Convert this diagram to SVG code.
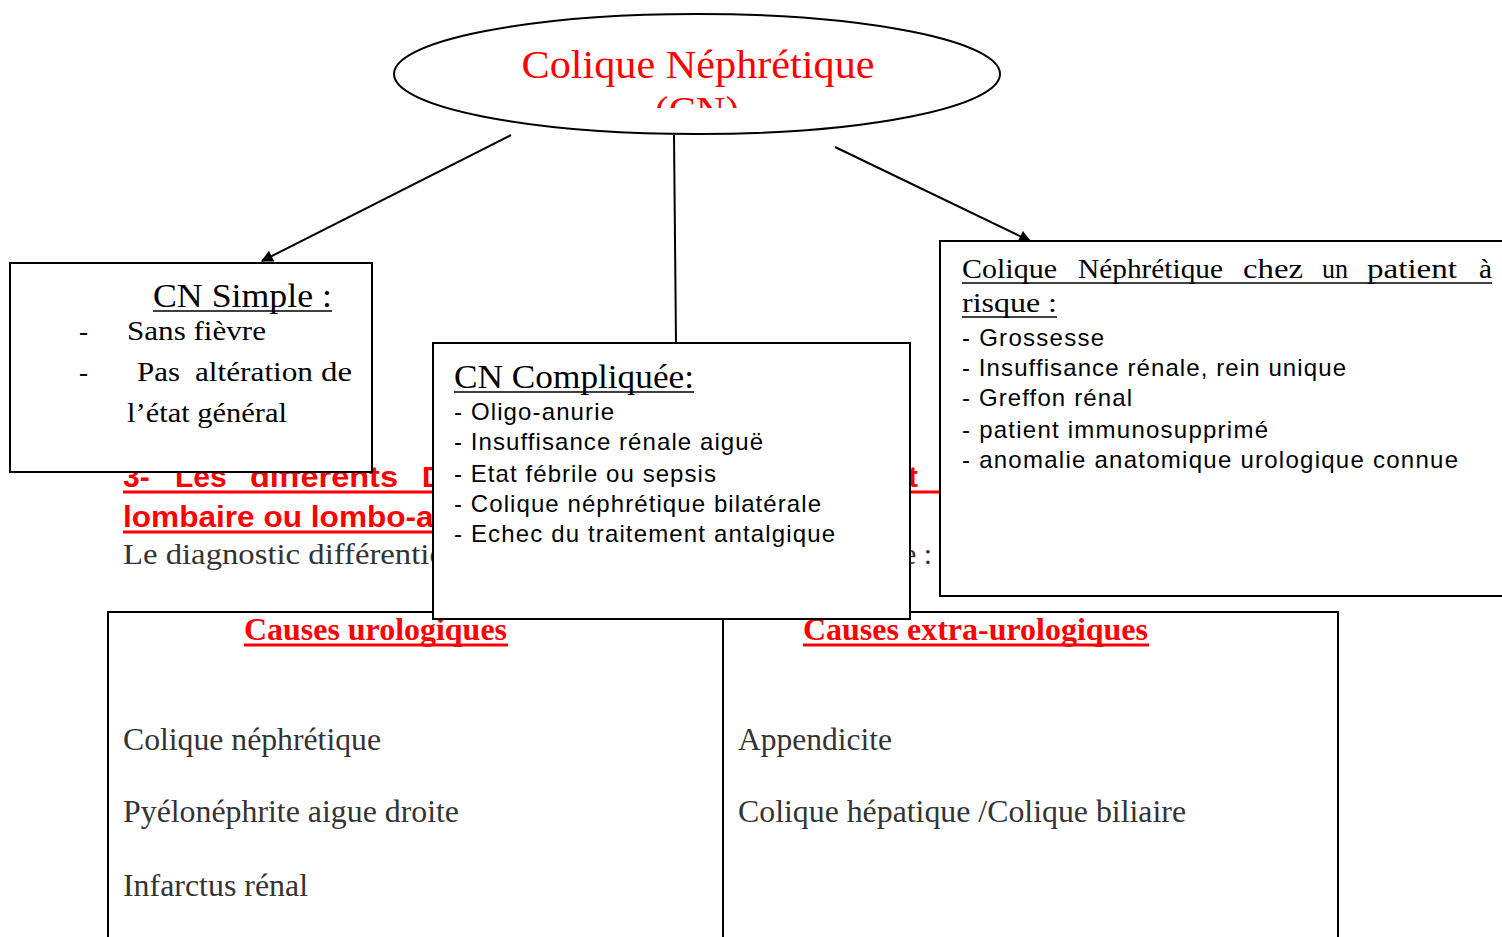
<svg xmlns="http://www.w3.org/2000/svg" width="1502" height="937" viewBox="0 0 1502 937">
<defs>
<marker id="arrL" viewBox="0 0 10 10" refX="9" refY="5" markerWidth="14" markerHeight="12" orient="auto" markerUnits="userSpaceOnUse">
<path d="M0,0 L10,5 L0,10 z" fill="#000"/>
</marker>
<clipPath id="ellclip"><rect x="390" y="10" width="620" height="98"/></clipPath>
</defs>
<style>
.box{fill:#fff;stroke:#000;stroke-width:2}
.serif{font-family:"Liberation Serif","Times New Roman",serif}
.sans{font-family:"Liberation Sans",Arial,sans-serif}
.item{font-family:"Liberation Sans",Arial,sans-serif;font-size:24px;fill:#000}
.red{fill:#ff0000}
.gray{fill:#333}
.conn{stroke:#000;stroke-width:2;fill:none}
.ul{stroke:#000;stroke-width:1.5}
.rul{stroke:#ff0000;stroke-width:3}
</style>
<rect width="1502" height="937" fill="#fff"/>

<g id="background">
<g class="sans red" font-weight="bold" font-size="30">
<text x="123" y="487">3-</text>
<text x="175" y="487">Les</text>
<text x="250" y="487" textLength="148" lengthAdjust="spacingAndGlyphs">différents</text>
<text x="422" y="487">D</text>
<text x="908" y="487">t</text>
<text x="123" y="527" textLength="330" lengthAdjust="spacingAndGlyphs">lombaire ou lombo-ab</text>
</g>
<line class="rul" x1="123" y1="492" x2="940" y2="492"/>
<line class="rul" x1="123" y1="532" x2="433" y2="532"/>
<text class="serif gray" x="123" y="564" font-size="30" textLength="330" lengthAdjust="spacingAndGlyphs">Le diagnostic différentiel</text>
<text class="serif gray" x="903" y="564" font-size="30">e :</text>
</g>

<g id="table">
<rect x="108" y="612" width="1230" height="340" fill="none" stroke="#000" stroke-width="2"/>
<line x1="723" y1="612" x2="723" y2="937" stroke="#000" stroke-width="2"/>
<text class="serif red" x="244" y="640" font-size="31" font-weight="bold" textLength="263" lengthAdjust="spacingAndGlyphs">Causes urologiques</text>
<line class="rul" x1="244" y1="645" x2="508" y2="645"/>
<text class="serif red" x="803" y="640" font-size="31" font-weight="bold" textLength="345" lengthAdjust="spacingAndGlyphs">Causes extra-urologiques</text>
<line class="rul" x1="803" y1="645" x2="1149" y2="645"/>
<g class="serif gray" font-size="31">
<text x="123" y="750" textLength="258" lengthAdjust="spacingAndGlyphs">Colique néphrétique</text>
<text x="123" y="822" textLength="336" lengthAdjust="spacingAndGlyphs">Pyélonéphrite aigue droite</text>
<text x="123" y="896" textLength="185" lengthAdjust="spacingAndGlyphs">Infarctus rénal</text>
<text x="738" y="750" textLength="154" lengthAdjust="spacingAndGlyphs">Appendicite</text>
<text x="738" y="822" textLength="448" lengthAdjust="spacingAndGlyphs">Colique hépatique /Colique biliaire</text>
</g>
</g>

<g id="connectors">
<line class="conn" x1="511" y1="135" x2="262" y2="261" marker-end="url(#arrL)"/>
<line class="conn" x1="674" y1="135" x2="676" y2="343"/>
<line class="conn" x1="835" y1="147" x2="1030" y2="241" marker-end="url(#arrL)"/>
</g>

<g id="root">
<ellipse cx="697" cy="74" rx="303" ry="60" fill="#fff" stroke="#000" stroke-width="2"/>
<g clip-path="url(#ellclip)">
<text class="serif red" x="698" y="78" font-size="41" text-anchor="middle" textLength="353" lengthAdjust="spacingAndGlyphs">Colique Néphrétique</text>
<text class="serif red" x="697" y="124" font-size="41" text-anchor="middle">(CN)</text>
</g>
</g>

<g id="cn-simple">
<rect class="box" x="10" y="263" width="362" height="209"/>
<text class="serif" x="153" y="307" font-size="34" textLength="179" lengthAdjust="spacingAndGlyphs">CN Simple :</text>
<line class="ul" x1="153" y1="311" x2="332" y2="311"/>
<g class="serif" font-size="27">
<text x="79" y="340">-</text>
<text x="127" y="340" textLength="139" lengthAdjust="spacingAndGlyphs">Sans fièvre</text>
<text x="79" y="381">-</text>
<text x="137" y="381" textLength="43" lengthAdjust="spacingAndGlyphs">Pas</text>
<text x="195" y="381" textLength="118" lengthAdjust="spacingAndGlyphs">altération</text>
<text x="321" y="381" textLength="31" lengthAdjust="spacingAndGlyphs">de</text>
<text x="127" y="422" textLength="160" lengthAdjust="spacingAndGlyphs">l’état général</text>
</g>
</g>

<g id="cn-compliquee">
<rect class="box" x="433" y="343" width="477" height="276"/>
<text class="serif" x="454" y="388" font-size="34" textLength="240" lengthAdjust="spacingAndGlyphs">CN Compliquée:</text>
<line class="ul" x1="454" y1="392" x2="694" y2="392"/>
<text class="item" x="454" y="420" textLength="160" lengthAdjust="spacing">- Oligo-anurie</text>
<text class="item" x="454" y="450" textLength="309" lengthAdjust="spacing">- Insuffisance rénale aiguë</text>
<text class="item" x="454" y="482" textLength="262" lengthAdjust="spacing">- Etat fébrile ou sepsis</text>
<text class="item" x="454" y="512" textLength="367" lengthAdjust="spacing">- Colique néphrétique bilatérale</text>
<text class="item" x="454" y="542" textLength="381" lengthAdjust="spacing">- Echec du traitement antalgique</text>
</g>

<g id="cn-risque">
<rect class="box" x="940" y="241" width="600" height="355"/>
<g class="serif" font-size="28">
<text x="962" y="278" textLength="95" lengthAdjust="spacingAndGlyphs">Colique</text>
<text x="1078" y="278" textLength="145" lengthAdjust="spacingAndGlyphs">Néphrétique</text>
<text x="1243" y="278" textLength="60" lengthAdjust="spacingAndGlyphs">chez</text>
<text x="1322" y="278" textLength="26" lengthAdjust="spacingAndGlyphs">un</text>
<text x="1367" y="278" textLength="90" lengthAdjust="spacingAndGlyphs">patient</text>
<text x="1479" y="278" textLength="13" lengthAdjust="spacingAndGlyphs">à</text>
<text x="962" y="312" textLength="95" lengthAdjust="spacingAndGlyphs">risque :</text>
</g>
<line class="ul" x1="962" y1="283" x2="1492" y2="283"/>
<line class="ul" x1="962" y1="317" x2="1057" y2="317"/>
<text class="item" x="962" y="346" textLength="142" lengthAdjust="spacing">- Grossesse</text>
<text class="item" x="962" y="376" textLength="384" lengthAdjust="spacing">- Insuffisance rénale, rein unique</text>
<text class="item" x="962" y="406" textLength="170" lengthAdjust="spacing">- Greffon rénal</text>
<text class="item" x="962" y="438" textLength="306" lengthAdjust="spacing">- patient immunosupprimé</text>
<text class="item" x="962" y="468" textLength="496" lengthAdjust="spacing">- anomalie anatomique urologique connue</text>
</g>
</svg>
